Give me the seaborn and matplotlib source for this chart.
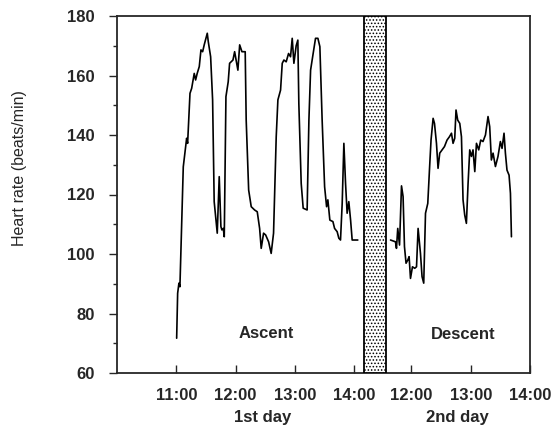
import numpy as np
import pandas as pd
import matplotlib
matplotlib.use("Agg")
import matplotlib.pyplot as plt
import seaborn as sns
from matplotlib.ticker import MultipleLocator
from matplotlib.transforms import blended_transform_factory

sns.set_style("ticks")
plt.rcParams['font.family'] = ['Liberation Sans', 'DejaVu Sans']
plt.rcParams['hatch.linewidth'] = 0.7

# ---- data (time in minutes since midnight, heart rate in beats/min) ----
day1_time = [660.4, 661.4, 662.7, 663.7, 667.1, 670.5, 671.5, 673.9, 675.6, 678.2,
             679.6, 681.2, 683.3, 685.0, 686.7, 688.3, 691.4, 692.4, 694.8, 696.8,
             698.4, 701.5, 703.5, 705.2, 706.2, 707.6, 708.6, 710.3, 712.6, 714.0,
             717.4, 719.1, 722.4, 724.2, 726.5, 729.8, 730.8, 733.3, 735.9, 739.3,
             742.0, 744.4, 746.0, 748.4, 750.5, 753.5, 756.1, 758.5, 761.2, 762.9,
             765.6, 767.3, 769.0, 771.3, 773.7, 775.7, 777.4, 779.1, 781.4, 783.1,
             784.1, 786.5, 788.5, 792.5, 794.3, 796.0, 798.6, 801.0, 803.4, 805.4,
             807.7, 810.2, 812.2, 813.5, 815.5, 818.6, 820.3, 822.9, 824.6, 826.3,
             828.0, 829.7, 831.4, 833.0, 834.7, 836.5, 838.1, 843.8]
day1_hr = [71.7, 86.8, 90.2, 89.0, 129.3, 138.9, 137.2, 154.0, 155.7, 160.7,
           158.5, 160.7, 163.0, 168.6, 168.0, 170.3, 174.2, 171.4, 166.3, 151.8,
           117.6, 107.0, 126.0, 109.2, 108.1, 108.6, 105.8, 152.9, 157.9, 164.1,
           165.2, 168.0, 161.8, 170.3, 168.0, 168.0, 145.0, 121.5, 115.9, 114.8,
           114.2, 108.6, 101.9, 107.0, 106.4, 104.1, 100.2, 107.0, 139.4, 151.8,
           155.1, 164.1, 165.2, 164.6, 167.4, 166.3, 172.5, 164.1, 170.0, 171.9,
           150.6, 123.7, 115.4, 114.8, 145.0, 161.8, 167.4, 172.5, 172.5, 169.7,
           145.0, 122.6, 115.9, 118.2, 111.4, 110.9, 108.6, 107.5, 105.3, 104.7,
           117.0, 137.2, 123.7, 113.7, 117.6, 111.4, 104.7, 104.7]

day2_time = [698.8, 703.8, 704.8, 706.1, 707.9, 709.9, 711.5, 712.9, 714.5, 716.3,
             717.6, 719.0, 721.0, 723.3, 725.1, 726.7, 729.1, 730.7, 732.4, 734.2,
             736.5, 738.2, 739.8, 741.9, 743.3, 745.3, 746.9, 748.6, 751.0, 753.4,
             756.0, 758.4, 760.5, 762.1, 763.8, 765.1, 766.8, 768.9, 770.6, 772.2,
             773.9, 775.6, 777.3, 779.0, 780.7, 782.3, 784.1, 785.8, 788.1, 790.1,
             792.4, 794.9, 797.5, 799.2, 800.9, 802.6, 805.0, 807.6, 810.0, 811.7,
             813.7, 815.1, 816.7, 818.8, 820.2, 821.2]
day2_hr = [104.7, 104.1, 101.9, 108.6, 103.0, 122.9, 119.3, 102.5, 96.9, 98.0,
           99.1, 91.8, 95.7, 95.2, 95.7, 108.6, 100.2, 92.4, 90.2, 113.7,
           117.0, 128.2, 138.3, 145.6, 143.9, 137.2, 128.8, 133.9, 135.0, 136.1,
           138.3, 139.4, 140.6, 137.2, 138.9, 148.4, 145.0, 143.9, 139.4, 118.2,
           113.1, 110.3, 123.7, 135.0, 132.8, 135.0, 127.7, 137.2, 135.0, 138.3,
           137.8, 140.0, 146.2, 142.8, 131.6, 133.9, 129.4, 132.8, 137.8, 135.5,
           140.6, 133.9, 128.2, 126.5, 120.4, 105.8]

day1_ticks = [660, 720, 780, 840]
day2_ticks = [720, 780, 840]
day1_ticklabels = ["11:00", "12:00", "13:00", "14:00"]
day2_ticklabels = ["12:00", "13:00", "14:00"]

# ---- layout of the broken time axis ----
day1_start, day1_end = 600.0, 850.2
day2_start, day2_end = 693.7, 840.0
gap = 21.65
offset = day1_end + gap - day2_start   # shift of day-2 clock times on the shared axis

df1 = pd.DataFrame({"x": day1_time, "hr": day1_hr})
df2 = pd.DataFrame({"x": np.array(day2_time) + offset, "hr": day2_hr})

fig = plt.figure(figsize=(5.56, 4.30), dpi=100)
ax = fig.add_axes([117/556, 1 - 373/430, 413/556, 357/430])

sns.lineplot(data=df1, x="x", y="hr", ax=ax, color="black", lw=1.2,
             sort=False, estimator=None)
sns.lineplot(data=df2, x="x", y="hr", ax=ax, color="black", lw=1.2,
             sort=False, estimator=None)

ax.axvspan(day1_end, day1_end + gap, facecolor="white", edgecolor="black",
           hatch=".....", lw=1.3, zorder=3)

ax.set_xlim(day1_start, day2_end + offset)
ax.set_ylim(60, 180)
ax.yaxis.set_major_locator(MultipleLocator(20))
ax.yaxis.set_minor_locator(MultipleLocator(10))

ax.set_xticks(day1_ticks + [t + offset for t in day2_ticks])
ax.set_xticklabels(day1_ticklabels + day2_ticklabels)

for s in ax.spines.values():
    s.set_linewidth(1.3)
    s.set_visible(True)

ax.tick_params(axis="x", direction="in", length=6, width=1.0, pad=11,
               labelsize=12)
ax.tick_params(axis="y", which="major", direction="out", length=6, width=1.0,
               pad=10, labelsize=12)
ax.tick_params(axis="y", which="minor", direction="out", length=3, width=1.0)
for lab in ax.get_xticklabels() + ax.get_yticklabels():
    lab.set_fontweight("bold")

ax.set_xlabel("")
ax.set_ylabel("Heart rate (beats/min)", fontsize=11.5)
ax.yaxis.set_label_coords(-0.218, 0.573)

tr = blended_transform_factory(ax.transData, ax.transAxes)
ax.text(747.0, -0.126, "1st day", transform=tr, ha="center", va="center",
        fontsize=12, fontweight="bold")
ax.text(945.0, -0.126, "2nd day", transform=tr, ha="center", va="center",
        fontsize=12, fontweight="bold")

ax.text(751.0, 73.3, "Ascent", ha="center", va="center", fontsize=12,
        fontweight="bold")
ax.text(951.0, 73.1, "Descent", ha="center", va="center", fontsize=12,
        fontweight="bold")

fig.savefig("out.png", dpi=100)
